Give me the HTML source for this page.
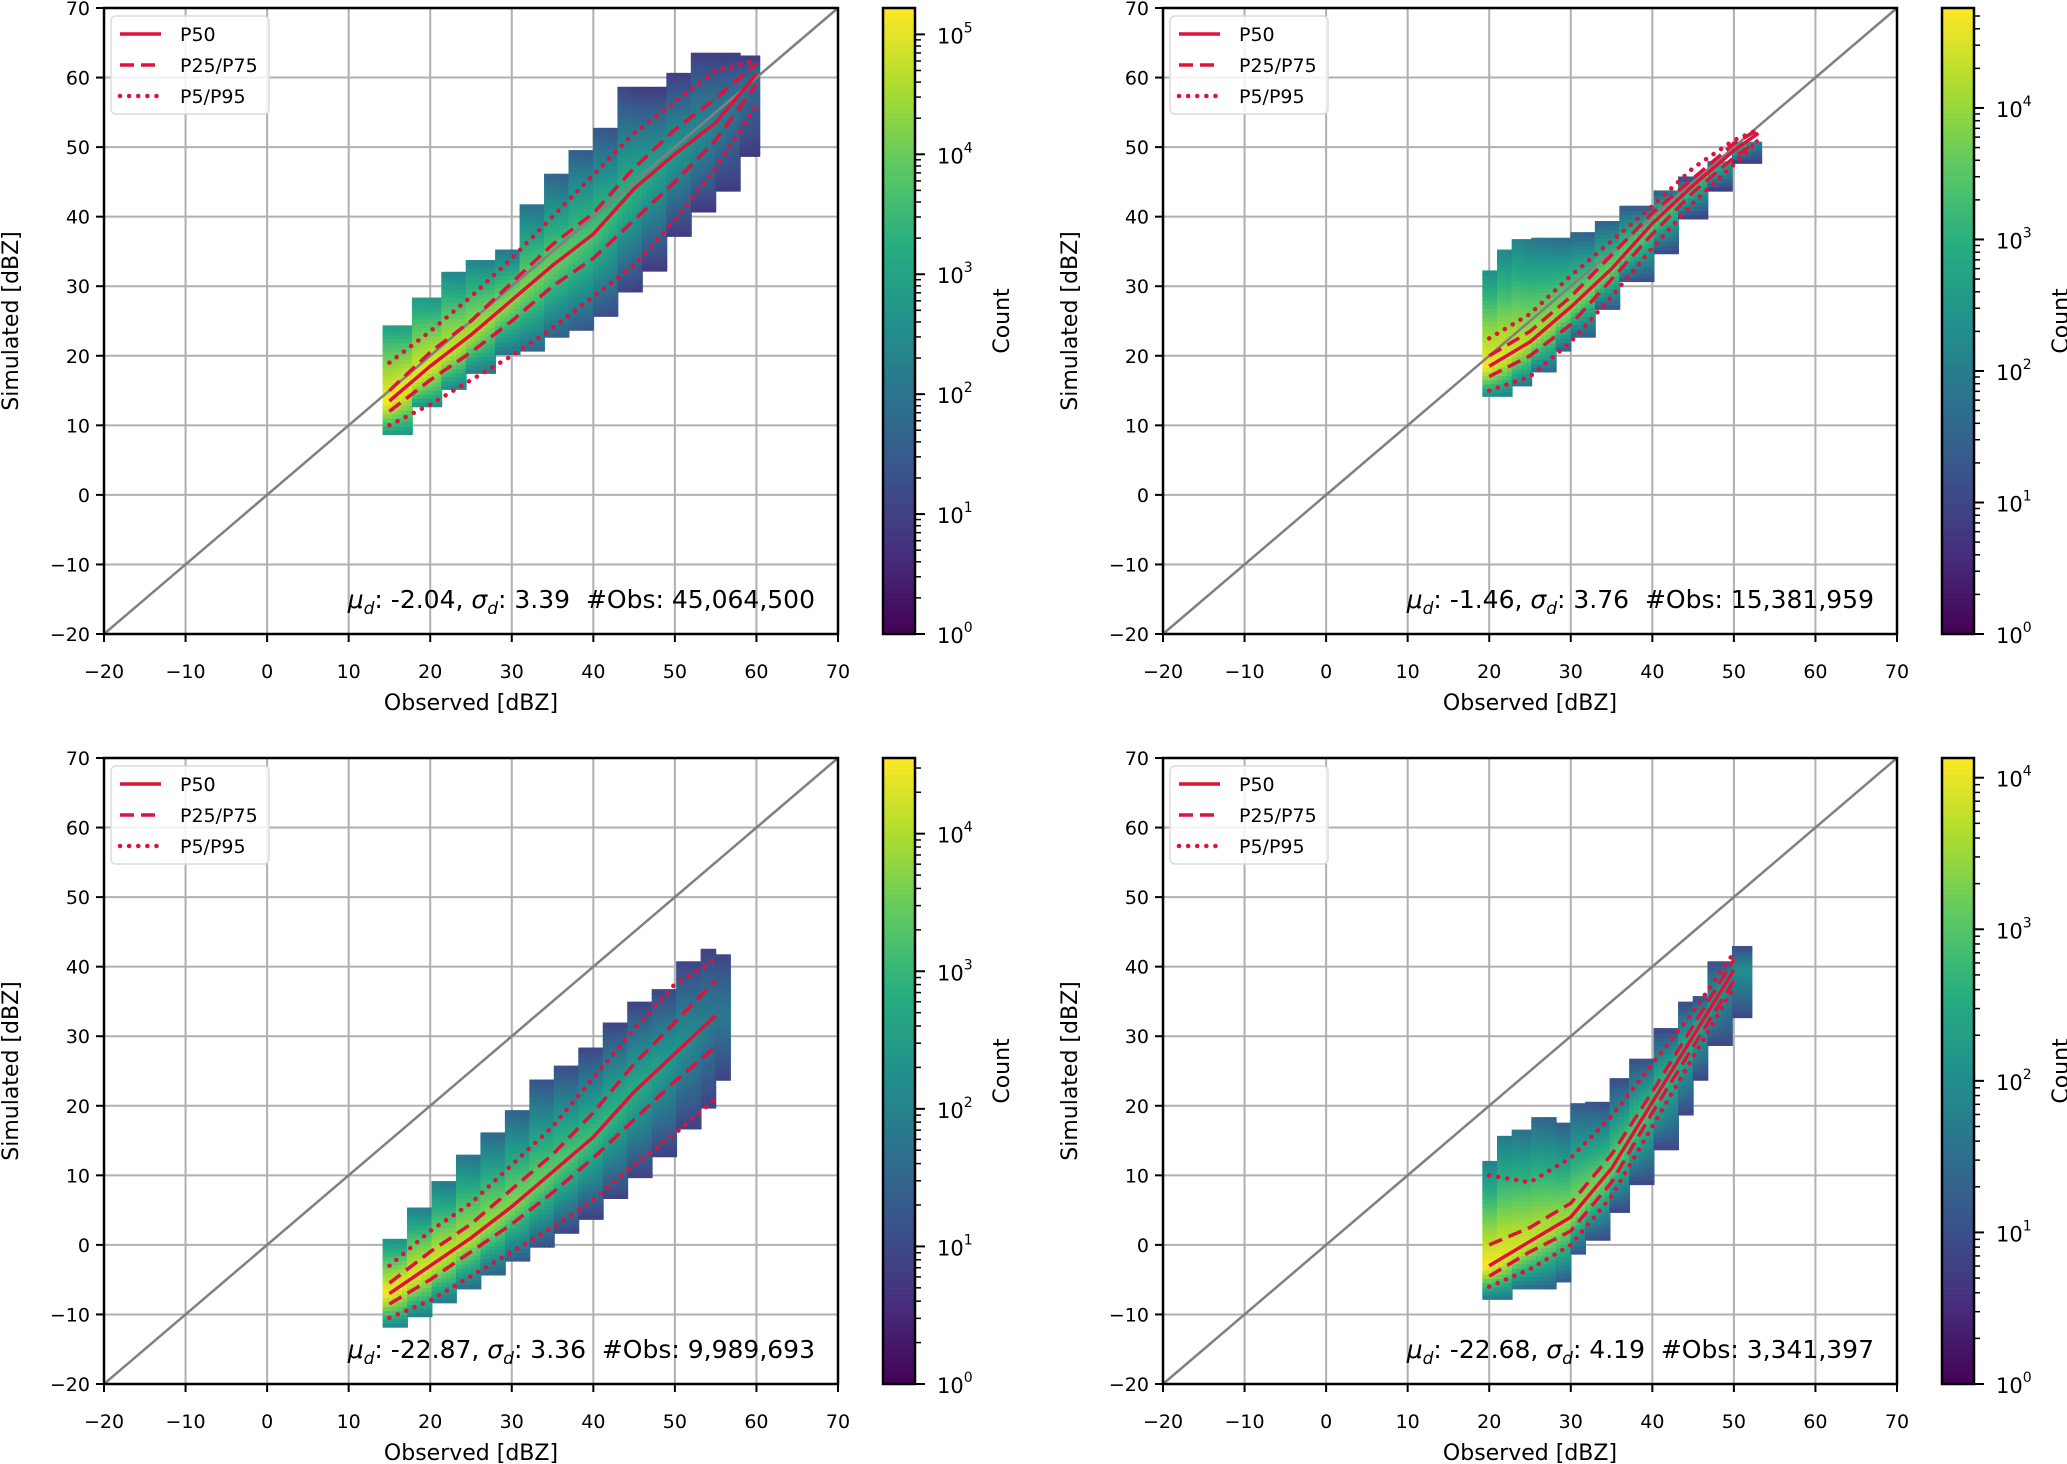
<!DOCTYPE html>
<html><head><meta charset="utf-8"><title>Simulated vs observed reflectivity</title>
<style>
html,body{margin:0;padding:0;background:#fff;}
svg{display:block;font-family:"DejaVu Sans","Liberation Sans",sans-serif;}
.pre{white-space:pre;}
</style></head>
<body>
<svg id="fig" width="2067" height="1464" viewBox="0 0 2067 1464" xmlns="http://www.w3.org/2000/svg"></svg>
<script>
// ---------- DATA ----------
const tickVals = [-20,-10,0,10,20,30,40,50,60,70];
// Panel TL
const obsTL = [15,20,25,30,35,40,45,50,55,60];
const p50TL = [13.5,18.5,23,28,33,37.5,44,49,53.5,60.5];
const p25TL = [12,16.5,20.5,25,30,34,39.5,45,51,59];
const p75TL = [15,20.5,25,30.5,36,40.5,47,52.5,57,62];
const p05TL = [10,13,16.5,20,24,28.5,33,39.5,47,56];
const p95TL = [19,23.5,28.5,34,40,46,52,56.5,61,62.5];
const peakTL = [5.2,5.0,4.6,4.3,4.0,3.7,3.3,2.8,2.3,1.8];
const envXTL = [14.5,18,21.5,24.5,28,31,34,37,40,43,46,49,52,55,58,60.5];
const envMinTL = [9,13,15.5,17.8,20.5,21,23,24,26,29.5,32.5,37.5,41,44,49,54];
const envMaxTL = [24.5,28.5,31.8,34,35.2,42,46,49.7,53,58.4,58.4,60.8,63.8,63.5,63,61];
const statsTL = ["-2.04","3.39","45,064,500"];
const cmaxTL = 5.22;
// Panel TR
const obsTR = [20,25,30,35,40,45,50,53];
const p50TR = [18.5,22,27,32.5,39,44.5,49.5,52];
const p25TR = [17,20,24.5,31,37.5,43.5,48.5,51];
const p75TR = [20,23.5,28.5,34.5,40.5,45.5,50.5,52.5];
const p05TR = [15,17,22,28.5,35.5,42,47.5,51];
const p95TR = [22.5,26,31.5,36.5,41.5,47,51,52.5];
const peakTR = [4.7,4.2,3.9,3.7,3.5,3.3,3.0,2.5];
const envXTR = [19.5,21,23,25,28,30,33,36,40,43,47,50,53.5];
const envMinTR = [14.5,14.5,16,18,21,23,27,31,35,40,44,48,50.5];
const envMaxTR = [32,35,37,37,37,37.5,39.5,41.5,44,45.5,48,50.5,53];
const statsTR = ["-1.46","3.76","15,381,959"];
const cmaxTR = 4.76;
// Panel BL
const obsBL = [15,20,25,30,35,40,45,50,55];
const p50BL = [-7,-3,1,5.5,10.5,15.5,22,27.5,33];
const p25BL = [-8.5,-5,-1,3,7.5,12.5,18,23.5,28.5];
const p75BL = [-5.5,-1,3,8,13,19,26,32,38];
const p05BL = [-10.5,-8,-4.5,-1,2.5,6.5,11.5,16,21];
const p95BL = [-3,2,6,11.5,17,24,31,37.5,41];
const peakBL = [4.5,4.3,4.0,3.7,3.4,3.1,2.8,2.4,1.8];
const envXBL = [14.5,17,20,23,26,29,32,35,38,41,44,47,50,53,55,57];
const envMinBL = [-11.5,-10,-8,-6,-4,-2,0,2,4,7,10,13,17,20,24,26];
const envMaxBL = [1,5,9,13,16,19.5,23.5,26,28.5,32,35,37,41,42.5,42,40];
const statsBL = ["-22.87","3.36","9,989,693"];
const cmaxBL = 4.55;
// Panel BR
const obsBR = [20,25,30,35,40,45,50];
const p50BR = [-3,0.5,4,11,20.5,30,39.5];
const p25BR = [-4.5,-1,2,9,19,28.5,38];
const p75BR = [0,2.5,6,13,22,31.5,41];
const p05BR = [-6,-3.5,0,7,17,27,37];
const p95BR = [10,9,12.5,18.5,26,33.5,42];
const peakBR = [4.1,3.8,3.5,3.2,2.9,2.5,2.0];
const envXBR = [19.5,21,23,25,28,30,32,35,37,40,43,45,47,50,52];
const envMinBR = [-7.5,-7.5,-6,-6,-5,-1,1,5,9,14,19,24,29,33,38];
const envMaxBR = [12,15.5,16.5,18,17.5,20.5,20.5,24,27,31,35,36,41,43,43];
const statsBR = ["-22.68","4.19","3,341,397"];
const cmaxBR = 4.13;

const panels = [
 {id:'tl',ox:104,oy:8,obs:obsTL,p50:p50TL,p25:p25TL,p75:p75TL,p05:p05TL,p95:p95TL,peak:peakTL,ex:envXTL,emin:envMinTL,emax:envMaxTL,stats:statsTL,cmax:cmaxTL},
 {id:'tr',ox:1163,oy:8,obs:obsTR,p50:p50TR,p25:p25TR,p75:p75TR,p05:p05TR,p95:p95TR,peak:peakTR,ex:envXTR,emin:envMinTR,emax:envMaxTR,stats:statsTR,cmax:cmaxTR},
 {id:'bl',ox:104,oy:758,obs:obsBL,p50:p50BL,p25:p25BL,p75:p75BL,p05:p05BL,p95:p95BL,peak:peakBL,ex:envXBL,emin:envMinBL,emax:envMaxBL,stats:statsBL,cmax:cmaxBL},
 {id:'br',ox:1163,oy:758,obs:obsBR,p50:p50BR,p25:p25BR,p75:p75BR,p05:p05BR,p95:p95BR,peak:peakBR,ex:envXBR,emin:envMinBR,emax:envMaxBR,stats:statsBR,cmax:cmaxBR}
];

// ---------- RENDER ----------
const NS='http://www.w3.org/2000/svg';
const svg=document.getElementById('fig');
const W=734,H=626,CBX=779,CBW=32;
function mk(tag,attrs,parent){const e=document.createElementNS(NS,tag);for(const k in attrs)e.setAttribute(k,attrs[k]);(parent||svg).appendChild(e);return e;}
function interp(xs,ys,x){if(x<=xs[0])return ys[0];for(let i=1;i<xs.length;i++){if(x<=xs[i]){const t=(x-xs[i-1])/(xs[i]-xs[i-1]);return ys[i-1]+t*(ys[i]-ys[i-1]);}}return ys[ys.length-1];}
function step(xs,ys,x){let v=ys[0];for(let i=0;i<xs.length;i++){if(x>=xs[i])v=ys[i];}return v;}
const vir=[[68,1,84],[71,45,123],[59,82,139],[44,114,142],[33,145,140],[40,174,128],[94,201,98],[173,220,48],[253,231,37]];
function viridis(t){t=Math.max(0,Math.min(1,t));const f=t*8,i=Math.min(7,Math.floor(f)),r=f-i;const a=vir[i],b=vir[i+1];return `rgb(${Math.round(a[0]+(b[0]-a[0])*r)},${Math.round(a[1]+(b[1]-a[1])*r)},${Math.round(a[2]+(b[2]-a[2])*r)})`;}
const DOT='0.1 9', DASH='14 7';

panels.forEach(p=>{
  const sx=v=>p.ox+(v+20)/90*W, sy=v=>p.oy+(70-v)/90*H;
  const g=mk('g',{});
  
  
  const grid=mk('g',{},g);
  
  
  tickVals.forEach(v=>{
    mk('line',{x1:sx(v),x2:sx(v),y1:p.oy,y2:p.oy+H,stroke:'#b0b0b0','stroke-width':2},grid);
    mk('line',{x1:p.ox,x2:p.ox+W,y1:sy(v),y2:sy(v),stroke:'#b0b0b0','stroke-width':2},grid);
  });
  const dens=mk('g',{},g);
  
  
  const st=0.6, last=p.ex[p.ex.length-1];
  for(let x=p.ex[0];x<=last;x+=st){
    const lo=step(p.ex,p.emin,x), hi=step(p.ex,p.emax,x);
    const m=interp(p.obs,p.p50,x), pk=interp(p.obs,p.peak,x);
    const edge=Math.max(0.9,pk-2.3);
    for(let y=lo;y<=hi;y+=st){
      const s=y>=m?(y-m)/Math.max(0.5,hi-m):(m-y)/Math.max(0.5,m-lo);
      const v=pk-(pk-edge)*Math.pow(Math.min(1,s),1.2);
      mk('rect',{x:sx(x)-2.8,y:sy(y)-2.6,width:5.8,height:5.4,fill:viridis(v/p.cmax)},dens);
    }
  }
  const d=mk('line',{x1:sx(-20),y1:sy(-20),x2:sx(70),y2:sy(70),stroke:'#808080','stroke-width':2.5},g);
  
  
  const lines=[[p.p50,'none','p50-line'],[p.p25,DASH,'p25-line'],[p.p75,DASH,'p75-line'],[p.p05,DOT,'p5-line'],[p.p95,DOT,'p95-line']];
  lines.forEach(([arr,dash,name])=>{
    const pts=p.obs.map((o,i)=>sx(o).toFixed(1)+','+sy(arr[i]).toFixed(1)).join(' ');
    const pl=mk('polyline',{points:pts,fill:'none',stroke:'#dc143c','stroke-width':dash===DOT?4.5:3.5,'stroke-dasharray':dash,'stroke-linecap':dash===DOT?'round':'butt'},g);
    
    
  });
  const fr=mk('rect',{x:p.ox,y:p.oy,width:W,height:H,fill:'none',stroke:'#000','stroke-width':2.5},g);
  
  
  tickVals.forEach(v=>{
    mk('line',{x1:sx(v),x2:sx(v),y1:p.oy+H,y2:p.oy+H+8,stroke:'#000','stroke-width':2},g);
    mk('line',{x1:p.ox-8,x2:p.ox,y1:sy(v),y2:sy(v),stroke:'#000','stroke-width':2},g);
    const tx=mk('text',{x:sx(v),y:p.oy+H+44,'font-size':19,'text-anchor':'middle'},g);
    tx.textContent=(v<0?'\u2212'+(-v):v);
    
    
    const ty=mk('text',{x:p.ox-14,y:sy(v)+7,'font-size':19,'text-anchor':'end'},g);
    ty.textContent=(v<0?'\u2212'+(-v):v);
    
    
  });
  const xl=mk('text',{x:p.ox+W/2,y:p.oy+H+76,'font-size':22,'text-anchor':'middle'},g);
  xl.textContent='Observed [dBZ]';
  
  
  const yx=p.ox-86, yy=p.oy+H/2;
  const yl=mk('text',{x:yx,y:yy,'font-size':22,'text-anchor':'middle',transform:`rotate(-90 ${yx} ${yy})`},g);
  yl.textContent='Simulated [dBZ]';
  
  
  const lg=mk('g',{},g);
  
  
  mk('rect',{x:p.ox+7,y:p.oy+8,width:158,height:98,rx:5,fill:'#fff','fill-opacity':0.85,stroke:'#dcdcdc','stroke-width':1.5},lg);
  [['P50','none'],['P25/P75',DASH],['P5/P95',DOT]].forEach(([lab,dash],i)=>{
    const yy2=p.oy+26+i*31;
    mk('line',{x1:p.ox+16,x2:p.ox+57,y1:yy2,y2:yy2,stroke:'#dc143c','stroke-width':dash===DOT?4.5:3.5,'stroke-dasharray':dash,'stroke-linecap':dash===DOT?'round':'butt'},lg);
    const t=mk('text',{x:p.ox+76,y:yy2+7,'font-size':19},lg);
    t.textContent=lab;
    
    
  });
  const an=mk('text',{x:p.ox+711,y:p.oy+600,'font-size':25,'text-anchor':'end',class:'pre'},g);
  
  
  an.innerHTML=`<tspan font-style="italic">μ</tspan><tspan font-style="italic" font-size="17" dy="6">d</tspan><tspan dy="-6">: ${p.stats[0]}, </tspan><tspan font-style="italic">σ</tspan><tspan font-style="italic" font-size="17" dy="6">d</tspan><tspan dy="-6">: ${p.stats[1]}  #Obs: ${p.stats[2]}</tspan>`;
  const cx=p.ox+CBX;
  const cb=mk('g',{},g);
  
  
  const n=120;
  for(let i=0;i<n;i++){
    mk('rect',{x:cx,y:p.oy+H*(1-(i+1)/n),width:CBW,height:H/n+0.6,fill:viridis((i+0.5)/n)},cb);
  }
  mk('rect',{x:cx,y:p.oy,width:CBW,height:H,fill:'none',stroke:'#000','stroke-width':2.5},cb);
  const cy=l=>p.oy+H*(1-l/p.cmax);
  for(let k=0;k<=Math.floor(p.cmax);k++){
    mk('line',{x1:cx+CBW,x2:cx+CBW+10,y1:cy(k),y2:cy(k),stroke:'#000','stroke-width':2},cb);
    const t=mk('text',{x:cx+CBW+22,y:cy(k)+9,'font-size':21},cb);
    t.innerHTML=`10<tspan font-size="14" dy="-11">${k}</tspan>`;
    
    
    for(let m=2;m<=9;m++){const l=k+Math.log10(m);if(l<p.cmax)mk('line',{x1:cx+CBW,x2:cx+CBW+6,y1:cy(l),y2:cy(l),stroke:'#000','stroke-width':1.5},cb);}
  }
  const lx=cx+CBW+94, ly=p.oy+H/2;
  const cl=mk('text',{x:lx,y:ly,'font-size':22,'text-anchor':'middle',transform:`rotate(-90 ${lx} ${ly})`},cb);
  cl.textContent='Count';
  
  
});
</script>
</body></html>
